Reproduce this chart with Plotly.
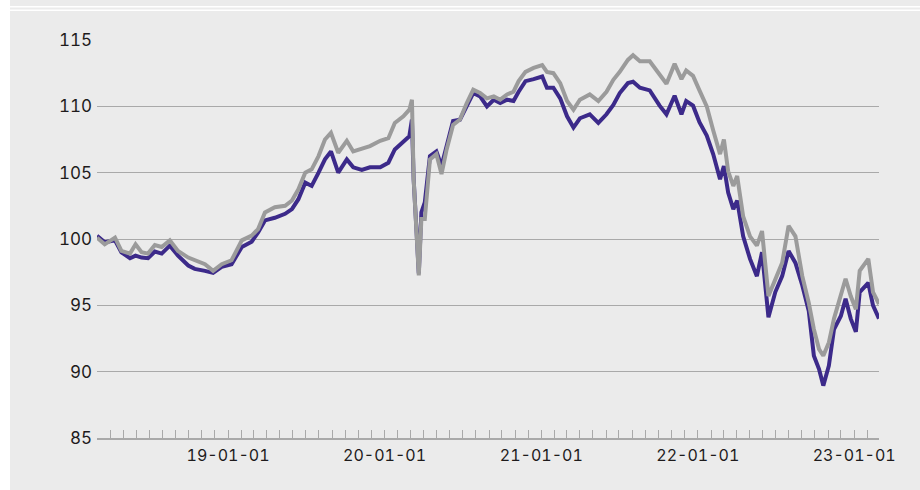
import plotly.graph_objects as go

dates = [
    "2018-03-01", "2018-03-19", "2018-04-12", "2018-04-27", "2018-05-17", "2018-05-30",
    "2018-06-13", "2018-06-28", "2018-07-14", "2018-07-30", "2018-08-18", "2018-09-06",
    "2018-09-30", "2018-10-15", "2018-11-08", "2018-11-27", "2018-12-17", "2019-01-09",
    "2019-02-02", "2019-02-25", "2019-03-12", "2019-03-28", "2019-04-20", "2019-05-14",
    "2019-05-30", "2019-06-14", "2019-06-30", "2019-07-15", "2019-07-31", "2019-08-15",
    "2019-08-29", "2019-09-15", "2019-10-05", "2019-10-20", "2019-11-09", "2019-11-28",
    "2019-12-22", "2020-01-10", "2020-01-25", "2020-02-14", "2020-02-28", "2020-03-05",
    "2020-03-09", "2020-03-15", "2020-03-21", "2020-03-27", "2020-04-04", "2020-04-16",
    "2020-05-01", "2020-05-13", "2020-05-25", "2020-06-09", "2020-06-25", "2020-07-11",
    "2020-07-26", "2020-08-11", "2020-08-27", "2020-09-12", "2020-09-27", "2020-10-13",
    "2020-10-28", "2020-11-09", "2020-11-25", "2020-12-14", "2021-01-03", "2021-01-14",
    "2021-01-29", "2021-02-14", "2021-03-02", "2021-03-17", "2021-04-01", "2021-04-24",
    "2021-05-14", "2021-06-02", "2021-06-18", "2021-07-03", "2021-07-22", "2021-08-03",
    "2021-08-19", "2021-09-11", "2021-10-04", "2021-10-20", "2021-11-08", "2021-11-24",
    "2021-12-05", "2021-12-21", "2022-01-05", "2022-01-22", "2022-02-06", "2022-02-22",
    "2022-03-03", "2022-03-13", "2022-03-25", "2022-04-03", "2022-04-17", "2022-05-03",
    "2022-05-19", "2022-05-31", "2022-06-15", "2022-07-01", "2022-07-17", "2022-08-01",
    "2022-08-17", "2022-09-02", "2022-09-17", "2022-09-29", "2022-10-11", "2022-10-21",
    "2022-11-03", "2022-11-15", "2022-12-01", "2022-12-12", "2022-12-24", "2023-01-05",
    "2023-01-14", "2023-02-03", "2023-02-14", "2023-02-28",
]

series_purple = [
    100.25, 99.75, 99.9, 99.0, 98.55, 98.75,
    98.6, 98.55, 99.05, 98.9, 99.5, 98.75,
    98.0, 97.75, 97.6, 97.45, 97.9, 98.1,
    99.4, 99.8, 100.5, 101.4, 101.6, 101.9,
    102.25, 103.0, 104.25, 104.0, 105.0, 106.0,
    106.6, 105.0, 106.0, 105.4, 105.2, 105.4,
    105.4, 105.75, 106.75, 107.4, 107.75, 109.0,
    104.5, 101.0, 97.4, 102.0, 102.75, 106.25,
    106.6, 105.5, 107.0, 108.9, 109.0, 110.1,
    111.0, 110.75, 110.0, 110.5, 110.25, 110.5,
    110.4, 111.1, 111.9, 112.05, 112.25, 111.4,
    111.4, 110.6, 109.25, 108.4, 109.1, 109.4,
    108.75, 109.4, 110.1, 111.0, 111.75, 111.85,
    111.4, 111.2, 110.05, 109.4, 110.8, 109.4,
    110.4, 110.05, 108.8, 107.8, 106.4, 104.5,
    105.5, 103.5, 102.25, 102.9, 100.2, 98.5,
    97.2, 99.0, 94.1, 96.0, 97.2, 99.1,
    98.2, 96.5, 94.6, 91.2, 90.2, 88.95,
    90.45, 93.2, 94.2, 95.5, 94.0, 93.0,
    96.0, 96.7, 95.0, 94.0,
]

series_grey = [
    100.1, 99.6, 100.1, 99.1, 98.9, 99.6,
    99.0, 98.9, 99.55, 99.4, 99.9, 99.1,
    98.6, 98.4, 98.1, 97.6, 98.1, 98.4,
    99.9, 100.25, 100.75, 102.0, 102.4, 102.5,
    102.9, 103.75, 105.0, 105.25, 106.25, 107.5,
    108.0, 106.5, 107.4, 106.6, 106.8, 107.0,
    107.4, 107.6, 108.75, 109.25, 109.75, 110.5,
    104.5, 101.25, 97.25, 101.5, 101.5, 106.0,
    106.4, 104.9, 106.75, 108.6, 109.0, 110.25,
    111.25, 111.0, 110.6, 110.75, 110.5, 110.9,
    111.1, 111.9, 112.6, 112.9, 113.1, 112.6,
    112.5, 111.75, 110.4, 109.75, 110.5, 110.9,
    110.4, 111.1, 112.0, 112.6, 113.5, 113.85,
    113.4, 113.4, 112.4, 111.7, 113.2, 112.05,
    112.7, 112.3, 111.2, 110.0, 108.2, 106.4,
    107.5, 105.1, 104.0, 104.75, 101.7, 100.2,
    99.5, 100.6, 95.7, 97.0, 98.2, 101.0,
    100.2, 97.2, 95.2, 93.2, 91.7, 91.2,
    92.2, 94.0, 95.7, 97.0, 95.7, 94.7,
    97.6, 98.5, 96.0, 95.1,
]

y_ticks = [85, 90, 95, 100, 105, 110, 115]
x_start = "2018-03-01"
x_end = "2023-02-28"

PURPLE = "#3c2a8a"
GREY = "#9b9b9b"
BG = "#ebebeb"
GRID = "#a9a9a9"
FONT = "Inter, 'Open Sans', sans-serif"

fig = go.Figure()
fig.add_trace(go.Scatter(x=dates, y=series_purple, mode="lines",
                         line=dict(color=PURPLE, width=4), showlegend=False,
                         hoverinfo="skip"))
fig.add_trace(go.Scatter(x=dates, y=series_grey, mode="lines",
                         line=dict(color=GREY, width=4), showlegend=False,
                         hoverinfo="skip"))

L, R, T, B = 97, 41, 40, 52
W, H = 920, 490
pw, ph = W - L - R, H - T - B

def px_x(p):
    return (p - L) / pw

def px_y(p):
    return (H - B - p) / ph

shapes = [
    dict(type="rect", xref="paper", yref="paper", x0=px_x(0), x1=px_x(10),
         y0=px_y(H), y1=px_y(0), fillcolor="white", line=dict(width=0)),
    dict(type="rect", xref="paper", yref="paper", x0=px_x(0), x1=px_x(W),
         y0=px_y(7.5), y1=px_y(6), fillcolor="white", line=dict(width=0)),
    dict(type="rect", xref="paper", yref="paper", x0=px_x(0), x1=px_x(W),
         y0=px_y(11), y1=px_y(9.5), fillcolor="white", line=dict(width=0)),
]

fig.update_layout(
    width=W, height=H,
    margin=dict(l=L, r=R, t=T, b=B, pad=0),
    paper_bgcolor=BG, plot_bgcolor=BG,
    font=dict(family=FONT, size=17, color="#1e1b1c"),
    shapes=shapes,
    xaxis=dict(
        type="date", range=[x_start, x_end],
        showgrid=False, zeroline=False,
        showline=True, linecolor=GRID, linewidth=1.5,
        ticks="inside", ticklen=8, tickwidth=1.2, tickcolor=GRID,
        dtick="M12", tick0="2019-01-01", tickformat="%y-%m-%d",
        tickfont=dict(size=16),
        ticklabelstandoff=2,
        minor=dict(dtick="M1", ticks="inside", ticklen=8, tickwidth=1.2,
                   tickcolor=GRID, showgrid=False),
    ),
    yaxis=dict(
        range=[85, 115], tickvals=y_ticks,
        showgrid=True, gridcolor=GRID, gridwidth=1.2,
        zeroline=False, showline=False, ticks="",
        ticklabelstandoff=4,
    ),
)

post = (
    "document.body.style.margin='0';"
    "document.body.style.background='white';"
    "var s=document.createElement('style');"
    "s.innerHTML='text{font-feature-settings:\"tnum\" 1;}';"
    "document.head.appendChild(s);"
)

fig.write_html("out.html", config={"displayModeBar": False}, post_script=post)
